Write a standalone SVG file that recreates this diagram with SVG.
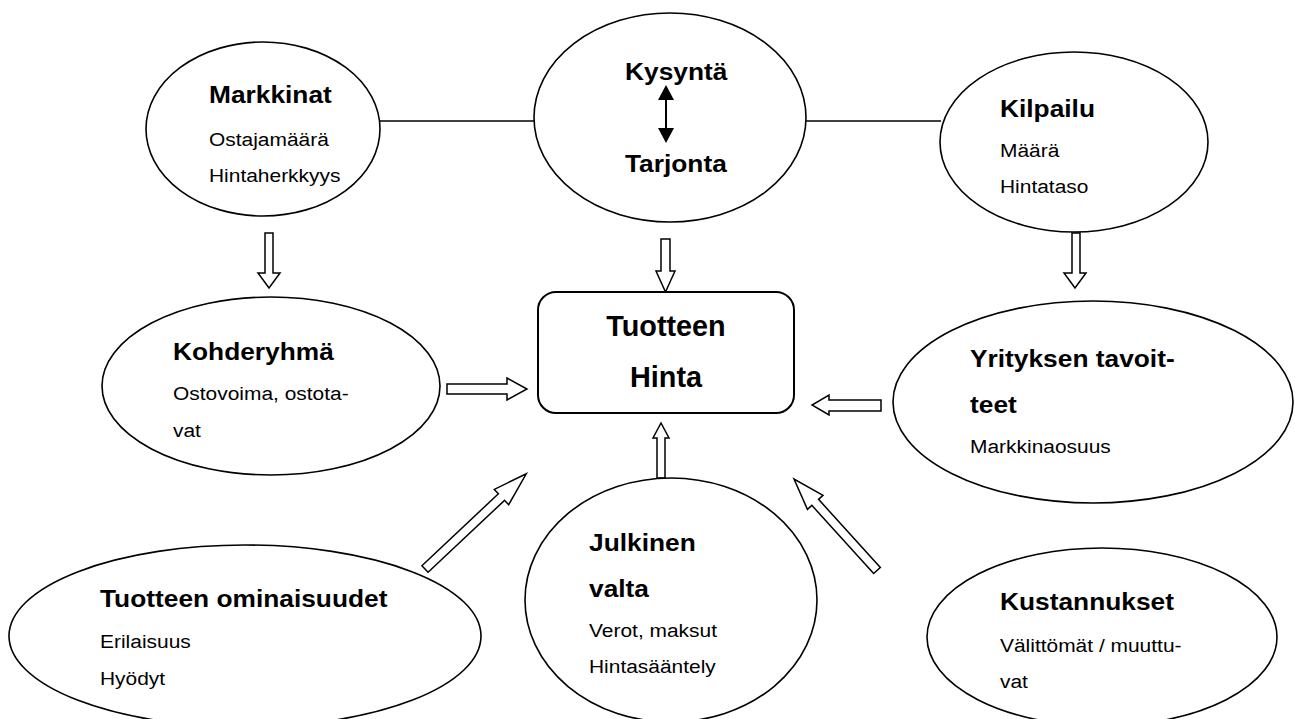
<svg xmlns="http://www.w3.org/2000/svg" width="1295" height="719" viewBox="0 0 1295 719">
<style>
.n{fill:#fff;stroke:#000;stroke-width:1.6}
.box{fill:#fff;stroke:#000;stroke-width:2}
.ar{fill:#fff;stroke:#000;stroke-width:1.5;stroke-linejoin:miter}
.ln{stroke:#000;stroke-width:1.5;fill:none}
text{font-family:"Liberation Sans",Arial,Helvetica,sans-serif;fill:#000}
.t{font-size:23.5px;font-weight:bold}
.s{font-size:18.7px}
.c{font-size:28.8px;font-weight:bold}
</style>
<rect width="1295" height="719" fill="#fff"/>
<g id="connectors">
<line class="ln" x1="380" y1="121" x2="534" y2="121"/>
<line class="ln" x1="806" y1="121" x2="941" y2="121"/>
<polygon class="ar" points="265,233 273,233 273,273 280,273 269,288 258,273 265,273"/>
<polygon class="ar" points="661,239 670,239 670,271 675,271 665.5,292 656,271 661,271"/>
<polygon class="ar" points="1072,233 1080,233 1080,273 1086,273 1075,288 1064,273 1072,273"/>
<polygon class="ar" points="447,384 507,384 507,378 527,389 507,400 507,394 447,394"/>
<polygon class="ar" points="881,400 829,400 829,395 812,405 829,415 829,411 881,411"/>
<polygon class="ar" points="657,478 657,438 653,438 661,423 669,438 665,438 665,478"/>
<polygon class="ar" transform="translate(425,569) rotate(-43.25)" points="0,-4.5 105,-4.5 105,-10.5 139,0 105,10.5 105,4.5 0,4.5"/>
<polygon class="ar" transform="translate(877,570.5) rotate(-132.2)" points="0,-4.5 92,-4.5 92,-10.5 123.5,0 92,10.5 92,4.5 0,4.5"/>
</g>
<g id="markkinat">
<ellipse class="n" cx="263" cy="129" rx="117" ry="87"/>
<text class="t" transform="matrix(1.12 0 0 1 209 103)">Markkinat</text>
<text class="s" transform="matrix(1.12 0 0 1 209 146)">Ostajamäärä</text>
<text class="s" transform="matrix(1.12 0 0 1 209 182)">Hintaherkkyys</text>
</g>
<g id="kysynta">
<ellipse class="n" cx="670" cy="117.5" rx="136" ry="104.5"/>
<text class="t" transform="matrix(1.12 0 0 1 625 80)">Kysyntä</text>
<text class="t" transform="matrix(1.12 0 0 1 625 172)">Tarjonta</text>
<line x1="666" y1="99" x2="666" y2="129" stroke="#000" stroke-width="2"/>
<polygon points="666,85 674,100 658,100" fill="#000"/>
<polygon points="666,143 674,128 658,128" fill="#000"/>
</g>
<g id="kilpailu">
<ellipse class="n" cx="1074" cy="142" rx="134" ry="90"/>
<text class="t" transform="matrix(1.12 0 0 1 1000 117)">Kilpailu</text>
<text class="s" transform="matrix(1.12 0 0 1 1000 157)">Määrä</text>
<text class="s" transform="matrix(1.12 0 0 1 1000 193)">Hintataso</text>
</g>
<g id="hinta">
<rect class="box" x="538" y="292" width="256" height="121" rx="18" ry="18"/>
<text class="c" x="666" y="336" text-anchor="middle">Tuotteen</text>
<text class="c" x="666" y="387" text-anchor="middle">Hinta</text>
</g>
<g id="kohderyhma">
<ellipse class="n" cx="271" cy="386" rx="169" ry="89"/>
<text class="t" transform="matrix(1.12 0 0 1 173 360)">Kohderyhmä</text>
<text class="s" transform="matrix(1.12 0 0 1 173 400)">Ostovoima, ostota-</text>
<text class="s" transform="matrix(1.12 0 0 1 173 437)">vat</text>
</g>
<g id="yrityksen">
<ellipse class="n" cx="1093" cy="402" rx="200" ry="101"/>
<text class="t" transform="matrix(1.12 0 0 1 970 367)">Yrityksen tavoit-</text>
<text class="t" transform="matrix(1.12 0 0 1 970 413)">teet</text>
<text class="s" transform="matrix(1.12 0 0 1 970 453)">Markkinaosuus</text>
</g>
<g id="ominaisuudet">
<ellipse class="n" cx="245" cy="636" rx="236" ry="91"/>
<text class="t" transform="matrix(1.12 0 0 1 100 607)">Tuotteen ominaisuudet</text>
<text class="s" transform="matrix(1.12 0 0 1 100 648)">Erilaisuus</text>
<text class="s" transform="matrix(1.12 0 0 1 100 685)">Hyödyt</text>
</g>
<g id="julkinen">
<ellipse class="n" cx="671" cy="600" rx="146" ry="122"/>
<text class="t" transform="matrix(1.12 0 0 1 589 551)">Julkinen</text>
<text class="t" transform="matrix(1.12 0 0 1 589 597)">valta</text>
<text class="s" transform="matrix(1.12 0 0 1 589 637)">Verot, maksut</text>
<text class="s" transform="matrix(1.12 0 0 1 589 673)">Hintasääntely</text>
</g>
<g id="kustannukset">
<ellipse class="n" cx="1102" cy="637" rx="175" ry="89"/>
<text class="t" transform="matrix(1.12 0 0 1 1000 610)">Kustannukset</text>
<text class="s" transform="matrix(1.12 0 0 1 1000 652)">Välittömät / muuttu-</text>
<text class="s" transform="matrix(1.12 0 0 1 1000 688)">vat</text>
</g>
</svg>
